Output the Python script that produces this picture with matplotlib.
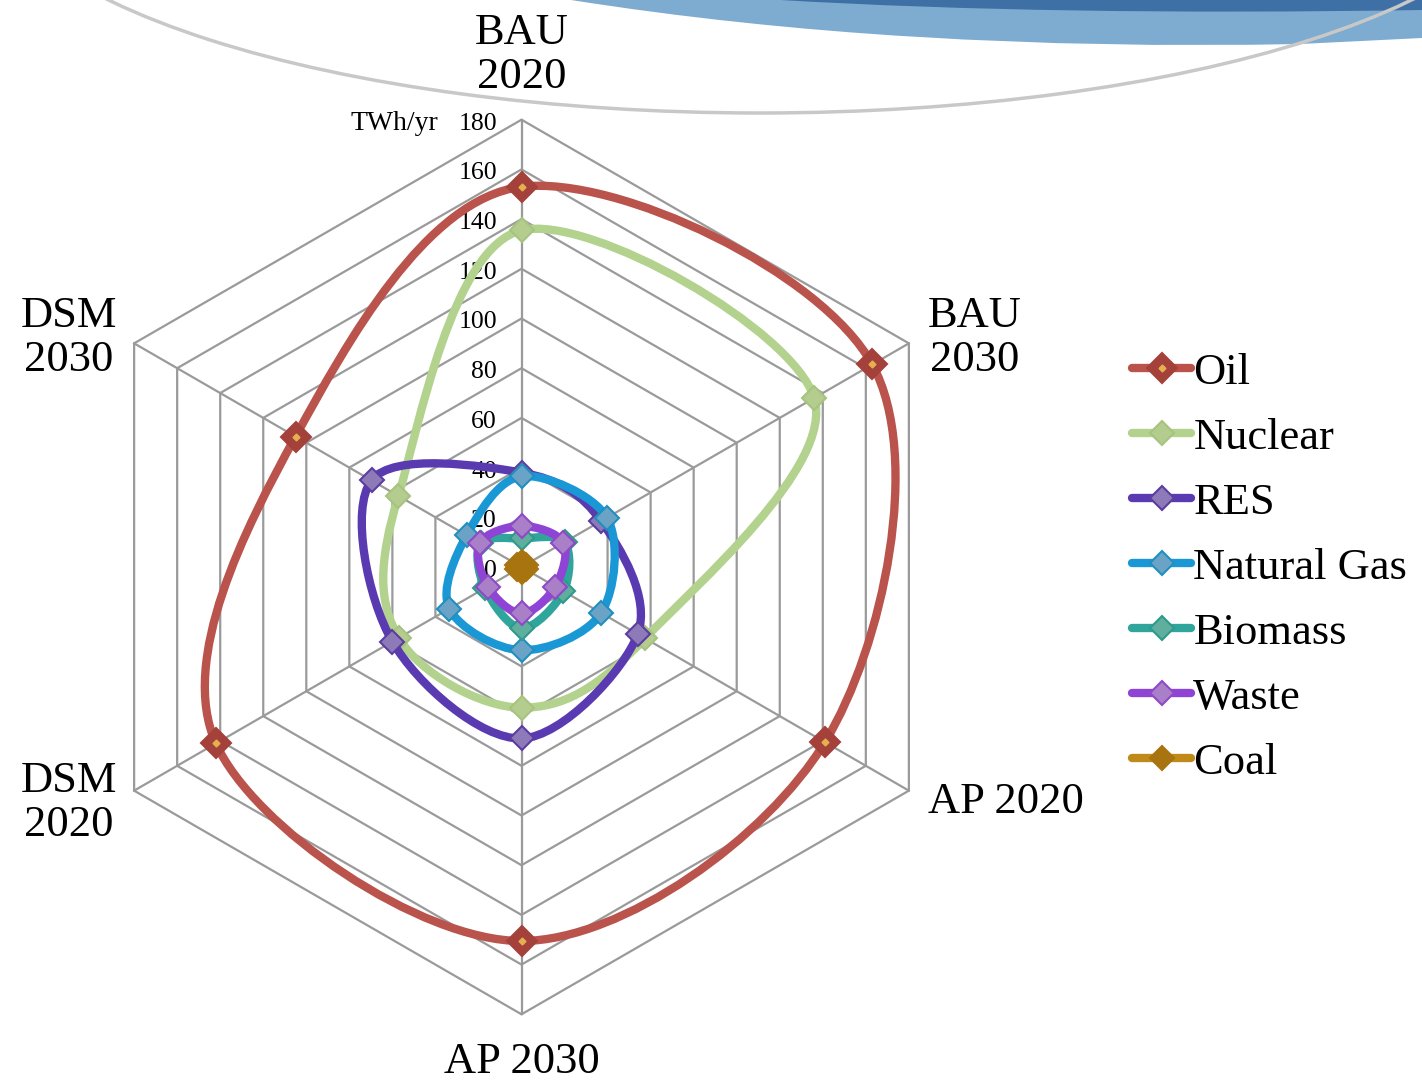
import numpy as np
import matplotlib
matplotlib.use("Agg")
import matplotlib.pyplot as plt
from matplotlib.path import Path
from matplotlib.patches import PathPatch, Arc, Polygon
from matplotlib.lines import Line2D
from matplotlib.legend_handler import HandlerTuple

plt.rcParams['font.family'] = ['Liberation Serif', 'DejaVu Serif']

# categories (clockwise from top)
categories = ["BAU\n2020", "BAU\n2030", "AP 2020", "AP 2030", "DSM\n2020", "DSM\n2030"]

# TWh/yr per scenario
oil = [153, 163, 141, 150.5, 142, 105]
nuclear = [135.5, 136, 57.4, 56.6, 57, 57.2]
res = [38, 37, 54, 69, 60, 69.7]
natural_gas = [36.5, 39.7, 37, 33.5, 33.5, 25.5]
biomass = [11.5, 20, 19.5, 24.7, 17, 19]
waste = [16.5, 19.5, 15.7, 18.7, 15.7, 19.3]
coal = [2, 2, 2, 2, 2, 2]

series_names = ["Oil", "Nuclear", "RES", "Natural Gas", "Biomass", "Waste", "Coal"]
series_vals = [oil, nuclear, res, natural_gas, biomass, waste, coal]

ticks = [0, 20, 40, 60, 80, 100, 120, 140, 160, 180]

line_colors = ["#b9534b", "#b2d28e", "#5a3ab0", "#1a98d5", "#2fa59b", "#8f44d6", "#c08a1a"]
face_colors = ["#a3413a", "#b4cc8e", "#8e7ab8", "#6ba3c6", "#5fae9e", "#a97fc8", "#a8740f"]
edge_colors = ["#a3413a", "#a6c47f", "#5b3d9f", "#1f8fc0", "#2e9a8c", "#8e48c8", "#a8740f"]

W, H = 1422, 1080
cx, cy, scale = 521.5, 567.0, 2.485  # chart centre in pixels, px per TWh

fig = plt.figure(figsize=(W / 100, H / 100), dpi=100)

# slide decoration at the top
bg = fig.add_axes([0, 0, 1, 1], zorder=0)
bg.set_xlim(0, W)
bg.set_ylim(H, 0)
bg.axis('off')
light = Path([(571, 0), (900, 52), (1300, 44), (1422, 38), (1422, 0), (571, 0)],
             [Path.MOVETO, Path.CURVE3, Path.CURVE3, Path.LINETO, Path.LINETO, Path.CLOSEPOLY])
bg.add_patch(PathPatch(light, facecolor="#7eabd0", edgecolor="none"))
dark = Path([(780, 0), (1050, 16), (1422, 10), (1422, 0), (780, 0)],
            [Path.MOVETO, Path.CURVE3, Path.CURVE3, Path.LINETO, Path.CLOSEPOLY])
bg.add_patch(PathPatch(dark, facecolor="#3e70a5", edgecolor="none"))
bg.add_patch(Arc((760, -138), 1560, 502, theta1=0, theta2=360, color="#c8c8c8", lw=2.5))

ax = fig.add_axes([0, 0, 1, 1], zorder=1)
ax.patch.set_alpha(0)
ax.set_xlim(-cx / scale, (W - cx) / scale)
ax.set_ylim((cy - H) / scale, cy / scale)
ax.axis('off')

n = len(categories)
angles = np.pi / 2 - np.arange(n) * 2 * np.pi / n


def to_xy(vals):
    v = np.asarray(vals, dtype=float)
    return v * np.cos(angles), v * np.sin(angles)


# hexagon grid
for t in ticks[1:]:
    gx, gy = to_xy([t] * n)
    ax.add_patch(Polygon(np.column_stack([gx, gy]), closed=True, fill=False,
                         edgecolor="#9a9a9a", lw=1.6, zorder=1))
for a in angles:
    ax.plot([0, ticks[-1] * np.cos(a)], [0, ticks[-1] * np.sin(a)], color="#9a9a9a", lw=1.6, zorder=1)

for t in ticks:
    ax.text(-9.9, t - 1.6, str(t), ha='right', va='center', fontsize=18.5, zorder=2)
ax.text(-33.6, ticks[-1] - 1.6, "TWh/yr", ha='right', va='center', fontsize=20)

# category labels (pixel positions of the reference)
label_pos = [(522, 55, 'center'), (928, 338, 'left'), (928, 802, 'left'),
             (522, 1062, 'center'), (117, 803, 'right'), (117, 338, 'right')]
for lab, (px, py, ha) in zip(categories, label_pos):
    ax.text((px - cx) / scale, (cy - py) / scale, lab, ha=ha, va='center',
            multialignment='center', fontsize=32, linespacing=1.15)


def smooth_closed(x, y):
    # closed Catmull-Rom spline as cubic Bezier segments
    pts = np.column_stack([x, y])
    m = len(pts)
    verts = [pts[0]]
    codes = [Path.MOVETO]
    for i in range(m):
        p0, p1, p2, p3 = pts[i - 1], pts[i], pts[(i + 1) % m], pts[(i + 2) % m]
        verts += [p1 + (p2 - p0) / 6, p2 - (p3 - p1) / 6, p2]
        codes += [Path.CURVE4] * 3
    return Path(verts, codes)


handles = []
for k, (name, vals) in enumerate(zip(series_names, series_vals)):
    x, y = to_xy(vals)
    z = 3 + 2 * k
    ax.add_patch(PathPatch(smooth_closed(x, y), fill=False, edgecolor=line_colors[k],
                           lw=6, capstyle='round', joinstyle='round', zorder=z))
    ms = 15 if name == "Oil" else 12
    ax.plot(x, y, ls='none', marker='D', ms=ms, mfc=face_colors[k], mec=edge_colors[k],
            mew=1.5, zorder=z + 1)
    h = Line2D([], [], color=line_colors[k], lw=6, solid_capstyle='round', marker='D', ms=ms,
               mfc=face_colors[k], mec=edge_colors[k], mew=1.5)
    if name == "Oil":
        ax.plot(x, y, ls='none', marker='D', ms=3.5, color="#e6b050", zorder=z + 1)
        dot = Line2D([], [], ls='none', marker='D', ms=3.5, color="#e6b050")
        handles.append((h, dot))
    else:
        handles.append(h)

ax.legend(handles, series_names, loc='center left', bbox_to_anchor=(1132 / W, 1 - 567.5 / H),
          bbox_transform=fig.transFigure, frameon=False, fontsize=32, handlelength=1.33,
          handletextpad=0.05, labelspacing=0.56, borderpad=0, borderaxespad=0,
          handler_map={tuple: HandlerTuple(ndivide=1, pad=0)})

fig.savefig("out.png", dpi=100)
